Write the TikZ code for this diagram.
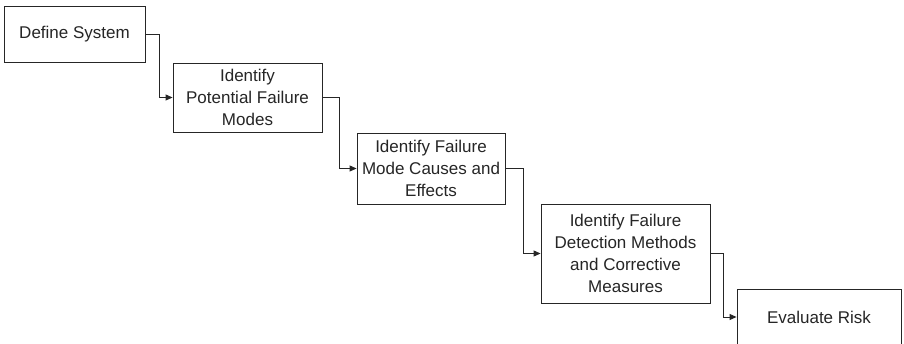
\documentclass[tikz,border=0pt]{standalone}
\usepackage{fontspec}
\setmainfont{Liberation Sans}
\usetikzlibrary{arrows.meta}
\begin{document}
\begin{tikzpicture}[x=1pt,y=-1pt,
  stepbox/.style={draw=black!85, line width=0.9pt, fill=white, align=center,
    inner sep=0pt, font=\fontsize{17}{22}\selectfont, text=black!85},
  flow/.style={draw=black!85, line width=0.9pt,
    -{Triangle[length=7pt,width=6pt]}}]
\useasboundingbox (0,0) rectangle (904,344);
\node[stepbox, minimum width=141pt, minimum height=56pt] (def) at (74.5,34) {Define System};
\node[stepbox, minimum width=149pt, minimum height=69pt] (pfm) at (247.5,97.5) {Identify\\Potential Failure\\Modes};
\node[stepbox, minimum width=148pt, minimum height=71pt] (cae) at (431,168.5) {Identify Failure\\Mode Causes and\\Effects};
\node[stepbox, minimum width=169pt, minimum height=99pt] (det) at (625.5,253.5) {Identify Failure\\Detection Methods\\and Corrective\\Measures};
\node[stepbox, minimum width=164pt, minimum height=56pt] (risk) at (819,317) {Evaluate Risk};
\draw[flow] (def.east) -- ++(14,0) |- (pfm.west);
\draw[flow] (pfm.east) -- ++(17,0) |- (cae.west);
\draw[flow] (cae.east) -- ++(18,0) |- (det.west);
\draw[flow] (det.east) -- ++(13,0) |- (risk.west);
\end{tikzpicture}
\end{document}
